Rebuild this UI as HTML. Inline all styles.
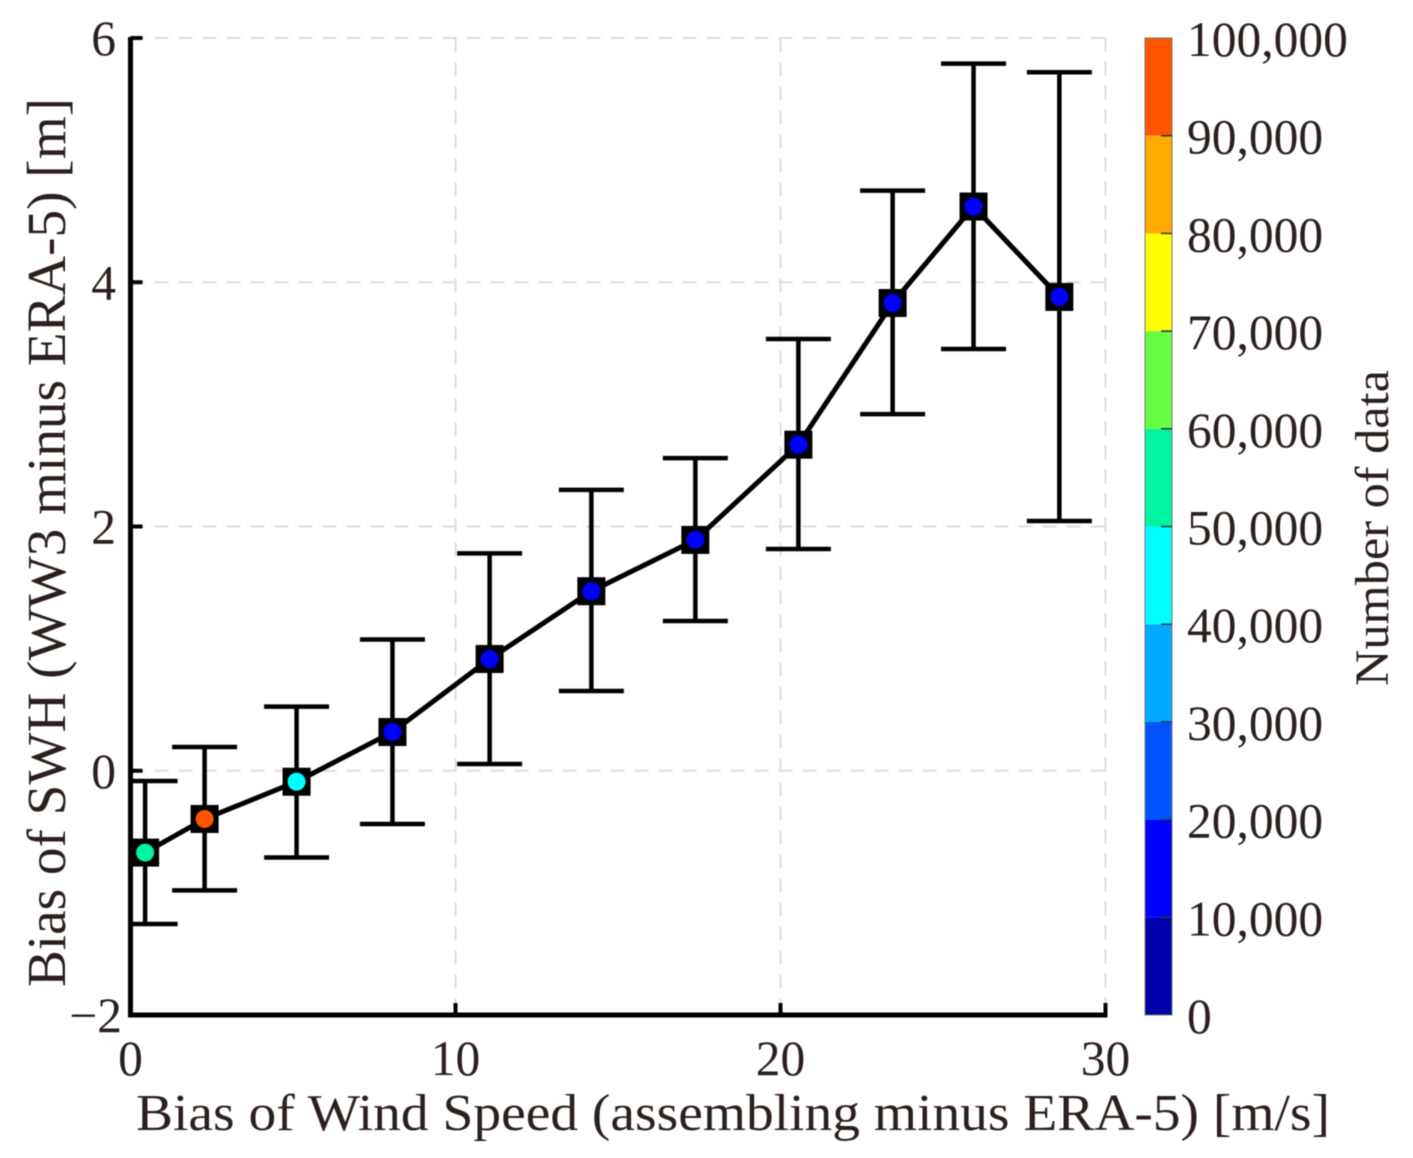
<!DOCTYPE html>
<html lang="en">
<head>
<meta charset="utf-8">
<title>Bias of SWH vs Bias of Wind Speed</title>
<style>
html,body{margin:0;padding:0;background:#fff;}
svg{display:block;filter:blur(0.5px);}
text{font-family:"Liberation Serif","Times New Roman",serif;fill:#2a1f1c;}
</style>
</head>
<body>
<svg id="chart" xmlns="http://www.w3.org/2000/svg" width="1413" height="1158" viewBox="0 0 1413 1158">
  <g id="grid"></g>
  <g id="colorbar"></g>
  <g id="errors"></g>
  <g id="axes"></g>
  <g id="series"></g>
  <text x="136" y="1130" font-size="52" textLength="1194" lengthAdjust="spacingAndGlyphs">Bias of Wind Speed (assembling minus ERA-5) [m/s]</text>
  <text transform="translate(65,987) rotate(-90)" font-size="55" textLength="889" lengthAdjust="spacingAndGlyphs">Bias of SWH (WW3 minus ERA-5) [m]</text>
  <text transform="translate(1388,686) rotate(-90)" font-size="48" textLength="316" lengthAdjust="spacingAndGlyphs">Number of data</text>
</svg>
<script>
var windBias = [0.45, 2.28, 5.11, 8.06, 11.05, 14.18, 17.38, 20.55, 23.45, 25.94, 28.58];
var swhBias = [-0.67, -0.395, -0.09, 0.317, 0.915, 1.47, 1.89, 2.67, 3.83, 4.62, 3.88];
var swhUpper = [-0.084, 0.194, 0.525, 1.075, 1.78, 2.30, 2.56, 3.535, 4.75, 5.79, 5.72];
var swhLower = [-1.255, -0.98, -0.71, -0.436, 0.055, 0.653, 1.226, 1.816, 2.92, 3.453, 2.045];
var dataCounts = [55000, 95000, 45000, 15000, 15000, 15000, 15000, 15000, 15000, 15000, 15000];
var xTicks = [0, 10, 20, 30];
var yTicks = [-2, 0, 2, 4, 6];
var colorTicks = [0, 10000, 20000, 30000, 40000, 50000, 60000, 70000, 80000, 90000, 100000];
var colorBins = ['#0000aa', '#0000ff', '#0055ff', '#00aaff', '#00ffff', '#00f5a0', '#66ff44', '#ffff00', '#ffaa00', '#ff5500'];

var NS = 'http://www.w3.org/2000/svg';
function xScale(v) { return 130.5 + (v - 0) * (1105.5 - 130.5) / 30; }
function yScale(v) { return 1015 - (v + 2) * (1015 - 38) / 8; }
function cScale(v) { return 1015 - v * (1015 - 38) / 100000; }
function binColor(v) {
  var i = Math.floor(v / 10000);
  return colorBins[Math.max(0, Math.min(colorBins.length - 1, i))];
}
function mk(parentId, tag, attrs) {
  var el = document.createElementNS(NS, tag);
  for (var k in attrs) { el.setAttribute(k, attrs[k]); }
  document.getElementById(parentId).appendChild(el);
  return el;
}
function seg(parentId, x1, y1, x2, y2, color, width, dash) {
  var attrs = { x1: x1, y1: y1, x2: x2, y2: y2, stroke: color, 'stroke-width': width };
  if (dash) { attrs['stroke-dasharray'] = dash; }
  return mk(parentId, 'line', attrs);
}

/* grid */
xTicks.forEach(function (t) {
  if (t === 0) { return; }
  var el = seg('grid', xScale(t), yScale(6), xScale(t), yScale(-2), '#dddddd', 2, '14 10');
  
  
});
yTicks.forEach(function (t) {
  if (t === -2) { return; }
  var el = seg('grid', xScale(0), yScale(t), xScale(30), yScale(t), '#dddddd', 2, '14 10');
  
  
});

/* colorbar */
colorBins.forEach(function (c, i) {
  var top = cScale(colorTicks[i + 1]);
  var bottom = cScale(colorTicks[i]);
  var el = mk('colorbar', 'rect', { x: 1145, y: top, width: 27, height: bottom - top, fill: c });
  
  
});
var cbFrame = mk('colorbar', 'rect', { x: 1145, y: cScale(100000), width: 27, height: cScale(0) - cScale(100000), fill: 'none', stroke: '#777777', 'stroke-width': 1 });


colorTicks.forEach(function (t) {
  var lab = mk('colorbar', 'text', { x: 1187, y: cScale(t) + 18, 'font-size': 49.5 });
  lab.textContent = t.toLocaleString('en-US');
  
  
  if (t > 0 && t < 100000) {
    var tk = seg('colorbar', 1161, cScale(t), 1172, cScale(t), '#333333', 1.5);
    
    
  }
});

/* axes */
var xAxis = seg('axes', 128, yScale(-2), xScale(30) + 2, yScale(-2), '#000000', 5);


var yAxis = seg('axes', xScale(0), yScale(6) - 1, xScale(0), yScale(-2) + 2.5, '#000000', 5);


xTicks.forEach(function (t) {
  var tk = seg('axes', xScale(t), yScale(-2), xScale(t), yScale(-2) - 12, '#000000', 4);
  
  
  var lab = mk('axes', 'text', { x: xScale(t), y: 1075, 'font-size': 49.5, 'text-anchor': 'middle' });
  lab.textContent = String(t);
  
  
});
yTicks.forEach(function (t) {
  var tk = seg('axes', xScale(0), yScale(t), xScale(0) + 12, yScale(t), '#000000', 4);
  
  
  var lab = mk('axes', 'text', { x: t < 0 ? 122 : 116, y: yScale(t) + 17, 'font-size': 49.5, 'text-anchor': 'end' });
  lab.textContent = t < 0 ? '\u2212' + Math.abs(t) : String(t);
  
  
});

/* error bars: caps are one x-unit wide each side, clipped at the plot's left edge */
windBias.forEach(function (w, i) {
  var x = xScale(w);
  var capLeft = xScale(Math.max(0, w - 1));
  var capRight = xScale(w + 1);
  var stem = seg('errors', x, yScale(swhUpper[i]), x, yScale(swhLower[i]), '#000000', 4.5);
  
  
  var capU = seg('errors', capLeft, yScale(swhUpper[i]), capRight, yScale(swhUpper[i]), '#000000', 4.5);
  
  
  var capL = seg('errors', capLeft, yScale(swhLower[i]), capRight, yScale(swhLower[i]), '#000000', 4.5);
  
  
});

/* series */
var linePts = windBias.map(function (w, i) { return xScale(w) + ',' + yScale(swhBias[i]); }).join(' ');
var line = mk('series', 'polyline', { points: linePts, fill: 'none', stroke: '#000000', 'stroke-width': 5, 'stroke-linejoin': 'round' });


windBias.forEach(function (w, i) {
  var cx = xScale(w);
  var cy = yScale(swhBias[i]);
  var sq = mk('series', 'rect', { x: cx - 14, y: cy - 14, width: 28, height: 28, fill: '#000000' });
  
  
  var dot = mk('series', 'circle', { cx: cx, cy: cy, r: 9, fill: binColor(dataCounts[i]) });
  
  
});
</script>
</body>
</html>
